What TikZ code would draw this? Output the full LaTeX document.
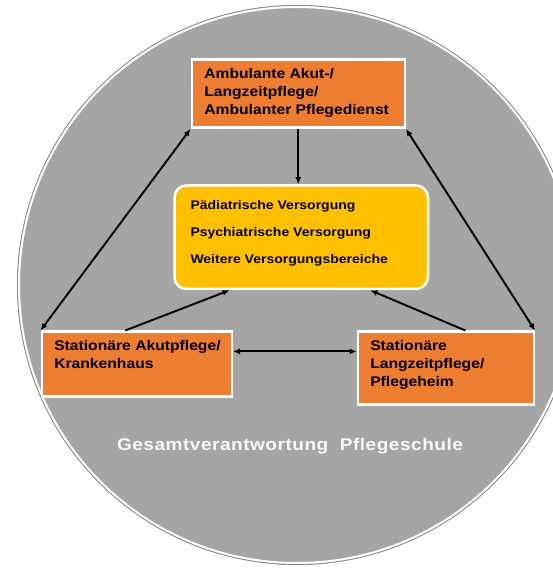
\documentclass[tikz,border=0pt]{standalone}
\usepackage{fontspec}
\setmainfont[FakeStretch=1.12]{Liberation Sans}
\newfontfamily\schulefont[FakeStretch=1.12,LetterSpace=3]{Liberation Sans}
\usetikzlibrary{arrows.meta,calc,shadows}
\definecolor{kreisgrau}{HTML}{A5A5A5}
\definecolor{pflegeorange}{HTML}{ED7D31}
\definecolor{versorggelb}{HTML}{FFC000}
\definecolor{schatten}{HTML}{A8826A}
\newcommand{\pflegetext}[3]{\parbox[c][#2][t]{#1}{\raggedright #3}}
\tikzset{
  pflegebox/.style={draw=white, line width=2.5pt, fill=pflegeorange, anchor=north west,
    inner xsep=12.5pt, inner ysep=9pt, font=\bfseries\fontsize{14}{18}\selectfont,
    drop shadow={shadow xshift=1pt, shadow yshift=-1.5pt, fill=schatten}},
  versorgbox/.style={pflegebox, fill=versorggelb, rounded corners=12pt,
    inner xsep=16pt, inner ysep=15pt, font=\bfseries\fontsize{12.5}{27}\selectfont},
  schuletext/.style={anchor=base, text=white!94!gray, font=\schulefont\fontsize{17}{20}\selectfont},
  pfeil/.style={line width=1.9pt, -{Latex[length=7pt,width=6pt]}},
  doppelpfeil/.style={line width=1.9pt, {Latex[length=7pt,width=6pt]}-{Latex[length=7pt,width=6pt]}}
}
\begin{document}
\begin{tikzpicture}[x=1pt,y=1pt]
  \useasboundingbox (0,0) rectangle (553,571);
  \fill[kreisgrau] (297,286) circle (280);
  \draw[gray, line width=0.6pt] (297,286) circle (279.6);
  \draw[white, line width=2pt] (297,286) circle (278);

  \node[pflegebox] (ambu) at (190.5,512.5)
    {\pflegetext{188pt}{50pt}{Ambulante Akut-/\\Langzeitpflege/\\\mbox{Ambulanter Pflegedienst}}};
  \node[versorgbox] (versorg) at (173.25,386.75)
    {\pflegetext{221.5pt}{73.5pt}{Pädiatrische Versorgung\\Psychiatrische Versorgung\\\mbox{Weitere Versorgungsbereiche}}};
  \node[pflegebox] (akut) at (40.5,240.5)
    {\pflegetext{165pt}{47pt}{\mbox{Stationäre Akutpflege/}\\Krankenhaus}};
  \node[pflegebox] (heim) at (356.5,240.5)
    {\pflegetext{151pt}{55pt}{Stationäre\\Langzeitpflege/\\Pflegeheim}};
  \node[schuletext] (schule) at (290,120) {\bfseries Gesamtverantwortung\ \ Pflegeschule};

  \draw[pfeil] (ambu.south) -- (ambu.south |- versorg.north);
  \draw[doppelpfeil] (ambu.south west) -- (akut.north west);
  \draw[doppelpfeil] (ambu.south east) -- (heim.north east);
  \draw[pfeil] ($(akut.north west)!0.44!(akut.north east)$) -- ($(versorg.south west)!0.22!(versorg.south east)$);
  \draw[pfeil] ($(heim.north west)!0.61!(heim.north east)$) -- ($(versorg.south west)!0.77!(versorg.south east)$);
  \coordinate (mitte) at ($(akut.north east)!0.31!(akut.south east)$);
  \draw[doppelpfeil] (mitte) -- (mitte -| heim.west);
\end{tikzpicture}
\end{document}
